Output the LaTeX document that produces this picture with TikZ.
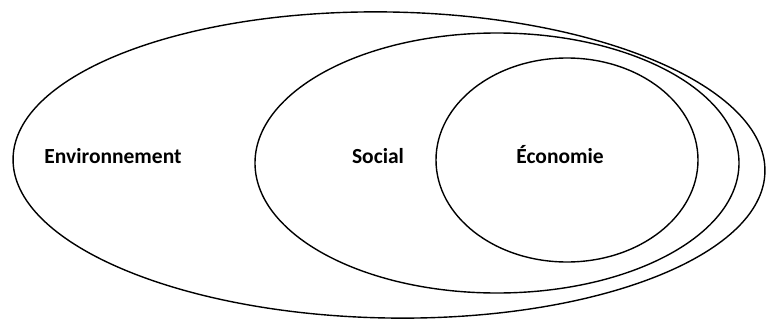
\documentclass[tikz,border=0pt]{standalone}
\usepackage{fontspec}
\setmainfont{Carlito}
\usetikzlibrary{shapes,calc}
\tikzset{
    sphere/.style = {draw, ellipse, line width=1.4pt, inner sep=0pt},
    tag/.style = {anchor=base, font=\bfseries\fontsize{21.5}{24}\selectfont}
}

\begin{document}
\begin{tikzpicture}[x=1pt, y=-1pt]
    \useasboundingbox (0,0) rectangle (766,321);
    \node [sphere, minimum width=752pt, minimum height=306pt, rotate=-1] (env) at (389,165) {};
    \node [sphere, minimum width=484pt, minimum height=260pt] (soc) at (497,163) {};
    \node [sphere, minimum width=262pt, minimum height=204pt] (eco) at (567,160) {};
    \node [tag] (envtxt) at (113,163) {Environnement};
    \node [tag] (soctxt) at (378,163) {Social};
    \node [tag] (ecotxt) at (560,163) {Économie};
\end{tikzpicture}
\end{document}
